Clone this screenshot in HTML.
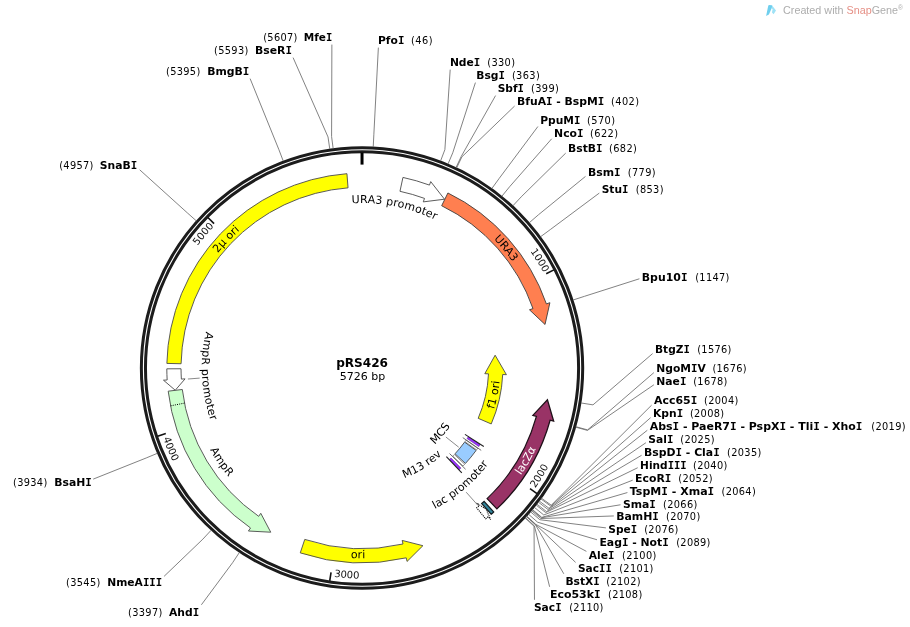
<!DOCTYPE html>
<html><head><meta charset="utf-8"><title>pRS426 map</title>
<style>html,body{margin:0;padding:0;background:#fff}svg{display:block}</style></head>
<body>
<svg width="910" height="627" viewBox="0 0 910 627" font-family="'DejaVu Sans', 'Liberation Sans', sans-serif" fill="#000">
<ellipse cx="362.03" cy="368.0" rx="220.67" ry="220.3" fill="none" stroke="#1c1c1c" stroke-width="3"/>
<ellipse cx="362.03" cy="368.0" rx="216.56" ry="216.2" fill="none" stroke="#1c1c1c" stroke-width="3"/>
<line x1="362.03" y1="152.5" x2="362.03" y2="164.6" stroke="#000" stroke-width="3"/>
<line x1="553.87" y1="269.87" x2="546.21" y2="273.79" stroke="#111" stroke-width="1.6"/>
<path id="tk1000" d="M530.29,251.19 A204.94,204.6 0 0 1 546.22,278.28" fill="none"/>
<text font-size="10" fill="#111"><textPath href="#tk1000">1000</textPath></text>
<line x1="536.99" y1="493.71" x2="530" y2="488.68" stroke="#111" stroke-width="1.6"/>
<path id="tk2000" d="M535.27,488.16 A210.95,210.6 0 0 0 551.25,461.1" fill="none"/>
<text font-size="10" fill="#111"><textPath href="#tk2000">2000</textPath></text>
<line x1="329.75" y1="580.77" x2="331.04" y2="572.27" stroke="#111" stroke-width="1.6"/>
<path id="tk3000" d="M333.91,576.72 A210.95,210.6 0 0 0 365.32,578.57" fill="none"/>
<text font-size="10" fill="#111"><textPath href="#tk3000">3000</textPath></text>
<line x1="157.63" y1="436.34" x2="165.8" y2="433.61" stroke="#111" stroke-width="1.6"/>
<path id="tk4000" d="M163.14,438.19 A210.95,210.6 0 0 0 175.81,466.94" fill="none"/>
<text font-size="10" fill="#111"><textPath href="#tk4000">4000</textPath></text>
<line x1="207.9" y1="217.55" x2="214.06" y2="223.56" stroke="#111" stroke-width="1.6"/>
<path id="tk5000" d="M197.65,245.81 A204.94,204.6 0 0 1 218.32,222.13" fill="none"/>
<text font-size="10" fill="#111"><textPath href="#tk5000">5000</textPath></text>
<path d="M166.86,363.41 A195.23,194.9 0 0 1 346.95,173.68 L348.05,187.84 A181,180.7 0 0 0 181.08,363.74 Z" fill="#ffff00" stroke="#4a4a4a" stroke-width="0.9" stroke-linejoin="miter"/>
<path d="M402.95,177.43 A195.23,194.9 0 0 1 429.45,185.09 L430.73,181.62 L444.49,199.21 L423.26,201.89 L424.54,198.42 A181,180.7 0 0 0 399.97,191.31 Z" fill="#ffffff" stroke="#4a4a4a" stroke-width="0.9" stroke-linejoin="miter"/>
<path d="M447.92,192.97 A195.23,194.9 0 0 1 546.4,303.91 L549.9,302.7 L545.02,324.48 L529.47,309.8 L532.97,308.58 A181,180.7 0 0 0 441.66,205.73 Z" fill="#ff7f50" stroke="#3c3c3c" stroke-width="0.9" stroke-linejoin="miter"/>
<path d="M496.91,508.91 A195.23,194.9 0 0 0 550.12,420.21 L553.69,421.2 L547.43,399.77 L532.85,415.41 L536.42,416.4 A181,180.7 0 0 1 487.08,498.64 Z" fill="#993366" stroke="#1e1018" stroke-width="1.25" stroke-linejoin="miter"/>
<path d="M493.67,511.92 A195.23,194.9 0 0 1 491.13,514.2 L481.73,503.55 A181,180.7 0 0 0 484.08,501.44 Z" fill="#31849b" stroke="#151c1f" stroke-width="1.25" stroke-linejoin="miter"/>
<path d="M485.68,518.82 A195.23,194.9 0 0 0 488.23,516.7 L490.63,519.52 L486.06,509.2 L476.64,503.04 L479.04,505.87 A181,180.7 0 0 1 476.67,507.83 Z" fill="#ffffff" stroke="#000" stroke-width="1.05" stroke-linejoin="miter" stroke-dasharray="1.1,1"/>
<path d="M300.25,552.88 A195.23,194.9 0 0 0 406.22,557.84 L407.06,561.44 L422.9,545.7 L402.16,540.41 L403,544.01 A181,180.7 0 0 1 304.75,539.41 Z" fill="#ffff00" stroke="#4a4a4a" stroke-width="0.9" stroke-linejoin="miter"/>
<path d="M168.19,391.18 A195.23,194.9 0 0 0 250.54,527.99 L248.42,531.03 L270.74,532.21 L260.78,513.3 L258.66,516.33 A181,180.7 0 0 1 182.31,389.49 Z" fill="#ccffcc" stroke="#4a4a4a" stroke-width="0.9" stroke-linejoin="miter"/>
<line x1="184.48" y1="403.1" x2="170.52" y2="405.86" stroke="#000" stroke-width="1" stroke-dasharray="1,1.2"/>
<path d="M166.81,368.82 A195.23,194.9 0 0 0 167.17,379.97 L163.47,380.19 L175.24,390.24 L185.07,378.87 L181.37,379.09 A181,180.7 0 0 1 181.03,368.76 Z" fill="#ffffff" stroke="#4a4a4a" stroke-width="0.9" stroke-linejoin="miter"/>
<path d="M491.23,423.95 A140.83,140.6 0 0 0 502.71,374.51 L506.42,374.68 L495.14,355.2 L484.8,373.68 L488.51,373.85 A126.61,126.4 0 0 1 478.18,418.3 Z" fill="#ffff00" stroke="#4a4a4a" stroke-width="0.9" stroke-linejoin="miter"/>
<path d="M476.11,450.44 A140.83,140.6 0 0 1 465.45,463.44 L455,453.8 A126.61,126.4 0 0 0 464.59,442.12 Z" fill="#99ccff" stroke="#4a4a4a" stroke-width="0.9" stroke-linejoin="miter"/>
<path d="M480.14,444.58 A140.83,140.6 0 0 1 478.86,446.52 L467.06,438.59 A126.61,126.4 0 0 0 468.21,436.84 Z" fill="#9933ff" stroke="#5a1f99" stroke-width="0.6" stroke-linejoin="miter"/>
<line x1="464.95" y1="434.34" x2="483.79" y2="446.49" stroke="#222" stroke-width="1.1"/>
<path d="M477.68,448.24 A140.83,140.6 0 0 1 476.54,449.85 L464.98,441.58 A126.61,126.4 0 0 0 466,440.14 Z" fill="#ffffff" stroke="#4a4a4a" stroke-width="0.6" stroke-linejoin="miter"/>
<line x1="462.75" y1="437.62" x2="481.19" y2="450.37" stroke="#4a4a4a" stroke-width="0.8"/>
<path d="M464.69,464.25 A140.83,140.6 0 0 1 463,466.02 L452.8,456.12 A126.61,126.4 0 0 0 454.33,454.53 Z" fill="#ffffff" stroke="#4a4a4a" stroke-width="0.6" stroke-linejoin="miter"/>
<line x1="449.56" y1="453.57" x2="465.59" y2="469.24" stroke="#4a4a4a" stroke-width="0.8"/>
<path d="M460.92,468.11 A140.83,140.6 0 0 1 459.24,469.73 L449.42,459.46 A126.61,126.4 0 0 0 450.93,458 Z" fill="#9933ff" stroke="#5a1f99" stroke-width="0.6" stroke-linejoin="miter"/>
<line x1="446.36" y1="456.71" x2="461.8" y2="472.96" stroke="#222" stroke-width="1.1"/>
<path id="p38" d="M343.97,203.99 A165.28,165 0 0 1 442.35,223.79" fill="none"/>
<text font-size="11" fill="#000" text-anchor="middle" letter-spacing="0.12"><textPath href="#p38" startOffset="50%">URA3 promoter</textPath></text>
<path id="p40" d="M489.13,234.75 A184.31,184 0 0 1 516.25,267.25" fill="none"/>
<text font-size="11" fill="#000" text-anchor="middle" letter-spacing="0"><textPath href="#p40" startOffset="50%">URA3</textPath></text>
<path id="p42" d="M210.77,262.87 A184.31,184 0 0 1 248.96,222.7" fill="none"/>
<text font-size="11" fill="#000" text-anchor="middle" letter-spacing="0"><textPath href="#p42" startOffset="50%">2μ ori</textPath></text>
<path id="p44" d="M207.32,326.25 A160.27,160 0 0 0 212.74,426.19" fill="none"/>
<text font-size="11" fill="#000" text-anchor="middle" letter-spacing="0.25"><textPath href="#p44" startOffset="50%">AmpR promoter</textPath></text>
<path id="p46" d="M207.91,445.55 A172.59,172.3 0 0 0 231.48,480.7" fill="none"/>
<text font-size="11" fill="#000" text-anchor="middle" letter-spacing="0"><textPath href="#p46" startOffset="50%">AmpR</textPath></text>
<path id="p48" d="M340.16,557.04 A190.62,190.3 0 0 0 375.96,557.79" fill="none"/>
<text font-size="11" fill="#000" text-anchor="middle" letter-spacing="0"><textPath href="#p48" startOffset="50%">ori</textPath></text>
<path id="p50" d="M515.57,482.79 A191.82,191.5 0 0 0 539.67,440.26" fill="none"/>
<text font-size="11" fill="#fff" text-anchor="middle" letter-spacing="0"><textPath href="#p50" startOffset="50%">lacZα</textPath></text>
<path id="p52" d="M489.23,422.01 A138.23,138 0 0 0 500.26,367.9" fill="none"/>
<text font-size="11" fill="#000" text-anchor="middle" letter-spacing="0"><textPath href="#p52" startOffset="50%">f1 ori</textPath></text>
<path id="p54" d="M423.54,514.12 A158.76,158.5 0 0 0 495.49,453.84" fill="none"/>
<text font-size="11" fill="#000" text-anchor="middle" letter-spacing="0"><textPath href="#p54" startOffset="50%">lac promoter</textPath></text>
<path id="p56" d="M395.8,481.08 A118.2,118 0 0 0 448.19,448.78" fill="none"/>
<text font-size="11" fill="#000" text-anchor="middle" letter-spacing="0"><textPath href="#p56" startOffset="50%">M13 rev</textPath></text>
<path id="p58" d="M430.35,448.49 A105.68,105.5 0 0 0 453.29,421.19" fill="none"/>
<text font-size="11" fill="#000" text-anchor="middle" letter-spacing="0"><textPath href="#p58" startOffset="50%">MCS</textPath></text>
<line x1="187.9" y1="379" x2="199.7" y2="378.1" stroke="#6c6c6c" stroke-width="0.8"/>
<line x1="466.2" y1="492.2" x2="477.7" y2="505.1" stroke="#6c6c6c" stroke-width="0.8"/>
<line x1="445.9" y1="437" x2="458.7" y2="447.2" stroke="#6c6c6c" stroke-width="0.8"/>
<text x="362.1" y="367.3" font-size="12" font-weight="bold" text-anchor="middle" textLength="51.89" lengthAdjust="spacingAndGlyphs">pRS426</text>
<text x="362.5" y="380.0" font-size="11" text-anchor="middle">5726 bp</text>
<polyline points="373.22,146.88 373.83,134.8 378.37,47.6" fill="none" stroke="#6c6c6c" stroke-width="0.85"/>
<text x="378" y="44" font-size="11" font-weight="bold" textLength="26.37" lengthAdjust="spacingAndGlyphs">Pfo<tspan font-family="'DejaVu Sans Mono', monospace">I</tspan></text>
<text x="411" y="44" font-size="9.8" textLength="21.5" lengthAdjust="spacing">(46)</text>
<polyline points="440.59,160.96 444.89,149.64 450.2,69.6" fill="none" stroke="#6c6c6c" stroke-width="0.85"/>
<text x="449.9" y="66" font-size="11" font-weight="bold" textLength="30.42" lengthAdjust="spacingAndGlyphs">Nde<tspan font-family="'DejaVu Sans Mono', monospace">I</tspan></text>
<text x="487.2" y="66" font-size="9.8" textLength="27.86" lengthAdjust="spacing">(330)</text>
<polyline points="448.05,163.93 452.75,152.78 475.41,82.6" fill="none" stroke="#6c6c6c" stroke-width="0.85"/>
<text x="476.3" y="79" font-size="11" font-weight="bold" textLength="28.7" lengthAdjust="spacingAndGlyphs">Bsg<tspan font-family="'DejaVu Sans Mono', monospace">I</tspan></text>
<text x="511.9" y="79" font-size="9.8" textLength="27.86" lengthAdjust="spacing">(363)</text>
<polyline points="456.05,167.48 461.19,156.52 495.56,95.6" fill="none" stroke="#6c6c6c" stroke-width="0.85"/>
<text x="497.7" y="92" font-size="11" font-weight="bold" textLength="26.25" lengthAdjust="spacingAndGlyphs">Sbf<tspan font-family="'DejaVu Sans Mono', monospace">I</tspan></text>
<text x="531" y="92" font-size="9.8" textLength="27.86" lengthAdjust="spacing">(399)</text>
<polyline points="456.71,167.79 461.89,156.85 514.6,106.04" fill="none" stroke="#6c6c6c" stroke-width="0.85"/>
<text x="517" y="105" font-size="11" font-weight="bold" textLength="87.33" lengthAdjust="spacingAndGlyphs">BfuA<tspan font-family="'DejaVu Sans Mono', monospace">I</tspan> - BspM<tspan font-family="'DejaVu Sans Mono', monospace">I</tspan></text>
<text x="611.1" y="105" font-size="9.8" textLength="27.86" lengthAdjust="spacing">(402)</text>
<polyline points="491.87,188.51 498.97,178.7 537.9,126.53" fill="none" stroke="#6c6c6c" stroke-width="0.85"/>
<text x="540.3" y="124" font-size="11" font-weight="bold" textLength="40.12" lengthAdjust="spacingAndGlyphs">PpuM<tspan font-family="'DejaVu Sans Mono', monospace">I</tspan></text>
<text x="587.1" y="124" font-size="9.8" textLength="27.86" lengthAdjust="spacing">(570)</text>
<polyline points="501.91,196.2 509.56,186.81 551.7,138.77" fill="none" stroke="#6c6c6c" stroke-width="0.85"/>
<text x="554.1" y="137" font-size="11" font-weight="bold" textLength="29.45" lengthAdjust="spacingAndGlyphs">Nco<tspan font-family="'DejaVu Sans Mono', monospace">I</tspan></text>
<text x="590.1" y="137" font-size="9.8" textLength="27.86" lengthAdjust="spacing">(622)</text>
<polyline points="512.93,205.76 521.18,196.89 565.7,153.13" fill="none" stroke="#6c6c6c" stroke-width="0.85"/>
<text x="568.1" y="152" font-size="11" font-weight="bold" textLength="34.41" lengthAdjust="spacingAndGlyphs">BstB<tspan font-family="'DejaVu Sans Mono', monospace">I</tspan></text>
<text x="609" y="152" font-size="9.8" textLength="27.86" lengthAdjust="spacing">(682)</text>
<polyline points="529.34,222.68 538.49,214.74 585.5,176.4" fill="none" stroke="#6c6c6c" stroke-width="0.85"/>
<text x="587.9" y="176" font-size="11" font-weight="bold" textLength="32.65" lengthAdjust="spacingAndGlyphs">Bsm<tspan font-family="'DejaVu Sans Mono', monospace">I</tspan></text>
<text x="627.8" y="176" font-size="9.8" textLength="27.86" lengthAdjust="spacing">(779)</text>
<polyline points="540.6,236.71 550.36,229.53 599.3,193.07" fill="none" stroke="#6c6c6c" stroke-width="0.85"/>
<text x="601.7" y="193" font-size="11" font-weight="bold" textLength="26.76" lengthAdjust="spacingAndGlyphs">Stu<tspan font-family="'DejaVu Sans Mono', monospace">I</tspan></text>
<text x="635.7" y="193" font-size="9.8" textLength="27.86" lengthAdjust="spacing">(853)</text>
<polyline points="573.08,300 584.61,296.28 639.4,278.77" fill="none" stroke="#6c6c6c" stroke-width="0.85"/>
<text x="641.8" y="281" font-size="11" font-weight="bold" textLength="45.65" lengthAdjust="spacingAndGlyphs">Bpu10<tspan font-family="'DejaVu Sans Mono', monospace">I</tspan></text>
<text x="695.2" y="281" font-size="9.8" textLength="34.22" lengthAdjust="spacing">(1147)</text>
<polyline points="581.02,402.96 592.99,404.87 652.6,353.59" fill="none" stroke="#6c6c6c" stroke-width="0.85"/>
<text x="655" y="353" font-size="11" font-weight="bold" textLength="34.8" lengthAdjust="spacingAndGlyphs">BtgZ<tspan font-family="'DejaVu Sans Mono', monospace">I</tspan></text>
<text x="697.2" y="353" font-size="9.8" textLength="34.22" lengthAdjust="spacing">(1576)</text>
<polyline points="575.87,426.69 587.55,429.9 653.9,372.6" fill="none" stroke="#6c6c6c" stroke-width="0.85"/>
<text x="656.3" y="372" font-size="11" font-weight="bold" textLength="49.5" lengthAdjust="spacingAndGlyphs">NgoM<tspan font-family="'DejaVu Sans Mono', monospace">I</tspan>V</text>
<text x="712.4" y="372" font-size="9.8" textLength="34.22" lengthAdjust="spacing">(1676)</text>
<polyline points="575.74,427.16 587.42,430.39 653.9,384.77" fill="none" stroke="#6c6c6c" stroke-width="0.85"/>
<text x="656.3" y="385" font-size="11" font-weight="bold" textLength="30.08" lengthAdjust="spacingAndGlyphs">Nae<tspan font-family="'DejaVu Sans Mono', monospace">I</tspan></text>
<text x="693.2" y="385" font-size="9.8" textLength="34.22" lengthAdjust="spacing">(1678)</text>
<polyline points="541.46,498.12 551.27,505.23 651.6,405.16" fill="none" stroke="#6c6c6c" stroke-width="0.85"/>
<text x="654" y="404" font-size="11" font-weight="bold" textLength="43.22" lengthAdjust="spacingAndGlyphs">Acc65<tspan font-family="'DejaVu Sans Mono', monospace">I</tspan></text>
<text x="704.1" y="404" font-size="9.8" textLength="34.22" lengthAdjust="spacing">(2004)</text>
<polyline points="540.89,498.9 550.66,506.06 650.6,417.67" fill="none" stroke="#6c6c6c" stroke-width="0.85"/>
<text x="653" y="417" font-size="11" font-weight="bold" textLength="30.11" lengthAdjust="spacingAndGlyphs">Kpn<tspan font-family="'DejaVu Sans Mono', monospace">I</tspan></text>
<text x="689.9" y="417" font-size="9.8" textLength="34.22" lengthAdjust="spacing">(2008)</text>
<polyline points="539.29,501.05 548.98,508.32 647.3,430.26" fill="none" stroke="#6c6c6c" stroke-width="0.85"/>
<text x="649.7" y="430" font-size="11" font-weight="bold" textLength="212.73" lengthAdjust="spacingAndGlyphs">Abs<tspan font-family="'DejaVu Sans Mono', monospace">I</tspan> - PaeR7<tspan font-family="'DejaVu Sans Mono', monospace">I</tspan> - PspX<tspan font-family="'DejaVu Sans Mono', monospace">I</tspan> - Tli<tspan font-family="'DejaVu Sans Mono', monospace">I</tspan> - Xho<tspan font-family="'DejaVu Sans Mono', monospace">I</tspan></text>
<text x="871.3" y="430" font-size="9.8" textLength="34.22" lengthAdjust="spacing">(2019)</text>
<polyline points="538.41,502.21 548.05,509.54 645.9,442.73" fill="none" stroke="#6c6c6c" stroke-width="0.85"/>
<text x="648.3" y="443" font-size="11" font-weight="bold" textLength="25.03" lengthAdjust="spacingAndGlyphs">Sal<tspan font-family="'DejaVu Sans Mono', monospace">I</tspan></text>
<text x="680.3" y="443" font-size="9.8" textLength="34.22" lengthAdjust="spacing">(2025)</text>
<polyline points="536.92,504.13 546.48,511.57 641.6,455.27" fill="none" stroke="#6c6c6c" stroke-width="0.85"/>
<text x="644" y="456" font-size="11" font-weight="bold" textLength="75.71" lengthAdjust="spacingAndGlyphs">BspD<tspan font-family="'DejaVu Sans Mono', monospace">I</tspan> - Cla<tspan font-family="'DejaVu Sans Mono', monospace">I</tspan></text>
<text x="727.1" y="456" font-size="9.8" textLength="34.22" lengthAdjust="spacing">(2035)</text>
<polyline points="536.17,505.09 545.69,512.58 637.7,467.72" fill="none" stroke="#6c6c6c" stroke-width="0.85"/>
<text x="640.1" y="469" font-size="11" font-weight="bold" textLength="46.61" lengthAdjust="spacingAndGlyphs">Hind<tspan font-family="'DejaVu Sans Mono', monospace">I</tspan><tspan font-family="'DejaVu Sans Mono', monospace">I</tspan><tspan font-family="'DejaVu Sans Mono', monospace">I</tspan></text>
<text x="693.1" y="469" font-size="9.8" textLength="34.22" lengthAdjust="spacing">(2040)</text>
<polyline points="534.35,507.37 543.77,514.98 632.7,480.17" fill="none" stroke="#6c6c6c" stroke-width="0.85"/>
<text x="635.1" y="482" font-size="11" font-weight="bold" textLength="36.25" lengthAdjust="spacingAndGlyphs">EcoR<tspan font-family="'DejaVu Sans Mono', monospace">I</tspan></text>
<text x="678.3" y="482" font-size="9.8" textLength="34.22" lengthAdjust="spacing">(2052)</text>
<polyline points="532.5,509.62 541.81,517.36 627.4,492.56" fill="none" stroke="#6c6c6c" stroke-width="0.85"/>
<text x="629.8" y="495" font-size="11" font-weight="bold" textLength="84.45" lengthAdjust="spacingAndGlyphs">TspM<tspan font-family="'DejaVu Sans Mono', monospace">I</tspan> - Xma<tspan font-family="'DejaVu Sans Mono', monospace">I</tspan></text>
<text x="721.5" y="495" font-size="9.8" textLength="34.22" lengthAdjust="spacing">(2064)</text>
<polyline points="532.18,509.99 541.48,517.75 620.5,504.78" fill="none" stroke="#6c6c6c" stroke-width="0.85"/>
<text x="622.9" y="508" font-size="11" font-weight="bold" textLength="32.9" lengthAdjust="spacingAndGlyphs">Sma<tspan font-family="'DejaVu Sans Mono', monospace">I</tspan></text>
<text x="663.1" y="508" font-size="9.8" textLength="34.22" lengthAdjust="spacing">(2066)</text>
<polyline points="531.56,510.74 540.82,518.54 613.8,515.94" fill="none" stroke="#6c6c6c" stroke-width="0.85"/>
<text x="616.2" y="520" font-size="11" font-weight="bold" textLength="42.68" lengthAdjust="spacingAndGlyphs">BamH<tspan font-family="'DejaVu Sans Mono', monospace">I</tspan></text>
<text x="666" y="520" font-size="9.8" textLength="34.22" lengthAdjust="spacing">(2070)</text>
<polyline points="530.61,511.85 539.83,519.71 605.9,527.88" fill="none" stroke="#6c6c6c" stroke-width="0.85"/>
<text x="608.3" y="533" font-size="11" font-weight="bold" textLength="28.91" lengthAdjust="spacingAndGlyphs">Spe<tspan font-family="'DejaVu Sans Mono', monospace">I</tspan></text>
<text x="644.2" y="533" font-size="9.8" textLength="34.22" lengthAdjust="spacing">(2076)</text>
<polyline points="528.54,514.23 537.64,522.23 597,539.77" fill="none" stroke="#6c6c6c" stroke-width="0.85"/>
<text x="599.4" y="546" font-size="11" font-weight="bold" textLength="69.36" lengthAdjust="spacingAndGlyphs">Eag<tspan font-family="'DejaVu Sans Mono', monospace">I</tspan> - Not<tspan font-family="'DejaVu Sans Mono', monospace">I</tspan></text>
<text x="676.2" y="546" font-size="9.8" textLength="34.22" lengthAdjust="spacing">(2089)</text>
<polyline points="526.76,516.23 535.76,524.33 586.4,551.37" fill="none" stroke="#6c6c6c" stroke-width="0.85"/>
<text x="588.8" y="559" font-size="11" font-weight="bold" textLength="25.71" lengthAdjust="spacingAndGlyphs">Ale<tspan font-family="'DejaVu Sans Mono', monospace">I</tspan></text>
<text x="622.1" y="559" font-size="9.8" textLength="34.22" lengthAdjust="spacing">(2100)</text>
<polyline points="526.6,516.41 535.59,524.52 575.6,562.38" fill="none" stroke="#6c6c6c" stroke-width="0.85"/>
<text x="578" y="572" font-size="11" font-weight="bold" textLength="33.74" lengthAdjust="spacingAndGlyphs">Sac<tspan font-family="'DejaVu Sans Mono', monospace">I</tspan><tspan font-family="'DejaVu Sans Mono', monospace">I</tspan></text>
<text x="619.2" y="572" font-size="9.8" textLength="34.22" lengthAdjust="spacing">(2101)</text>
<polyline points="526.43,516.59 535.42,524.71 563.79,573.8" fill="none" stroke="#6c6c6c" stroke-width="0.85"/>
<text x="565.4" y="585" font-size="11" font-weight="bold" textLength="34.43" lengthAdjust="spacingAndGlyphs">BstX<tspan font-family="'DejaVu Sans Mono', monospace">I</tspan></text>
<text x="606.3" y="585" font-size="9.8" textLength="34.22" lengthAdjust="spacing">(2102)</text>
<polyline points="525.45,517.67 534.38,525.85 549.63,586.8" fill="none" stroke="#6c6c6c" stroke-width="0.85"/>
<text x="549.9" y="598" font-size="11" font-weight="bold" textLength="50.67" lengthAdjust="spacingAndGlyphs">Eco53k<tspan font-family="'DejaVu Sans Mono', monospace">I</tspan></text>
<text x="608" y="598" font-size="9.8" textLength="34.22" lengthAdjust="spacing">(2108)</text>
<polyline points="525.12,518.03 534.04,526.22 534.48,599.8" fill="none" stroke="#6c6c6c" stroke-width="0.85"/>
<text x="533.9" y="611" font-size="11" font-weight="bold" textLength="27.73" lengthAdjust="spacingAndGlyphs">Sac<tspan font-family="'DejaVu Sans Mono', monospace">I</tspan></text>
<text x="569.2" y="611" font-size="9.8" textLength="34.22" lengthAdjust="spacing">(2110)</text>
<polyline points="333.15,148.48 331.58,136.49 331.89,44.6" fill="none" stroke="#6c6c6c" stroke-width="0.85"/>
<text x="303.8" y="41" font-size="11" font-weight="bold" textLength="28.48" lengthAdjust="spacingAndGlyphs">Mfe<tspan font-family="'DejaVu Sans Mono', monospace">I</tspan></text>
<text x="263.2" y="41" font-size="9.8" textLength="34.22" lengthAdjust="spacing">(5607)</text>
<polyline points="329.78,148.95 328.02,136.98 293.08,57.6" fill="none" stroke="#6c6c6c" stroke-width="0.85"/>
<text x="255" y="54" font-size="11" font-weight="bold" textLength="36.92" lengthAdjust="spacingAndGlyphs">BseR<tspan font-family="'DejaVu Sans Mono', monospace">I</tspan></text>
<text x="214.1" y="54" font-size="9.8" textLength="34.22" lengthAdjust="spacing">(5593)</text>
<polyline points="283.24,161.04 278.93,149.73 250.1,78.6" fill="none" stroke="#6c6c6c" stroke-width="0.85"/>
<text x="207.2" y="75" font-size="11" font-weight="bold" textLength="42.2" lengthAdjust="spacingAndGlyphs">BmgB<tspan font-family="'DejaVu Sans Mono', monospace">I</tspan></text>
<text x="166" y="75" font-size="9.8" textLength="34.22" lengthAdjust="spacing">(5395)</text>
<polyline points="196.33,220.86 187.27,212.81 139.7,169.79" fill="none" stroke="#6c6c6c" stroke-width="0.85"/>
<text x="99.7" y="169" font-size="11" font-weight="bold" textLength="37.48" lengthAdjust="spacingAndGlyphs">SnaB<tspan font-family="'DejaVu Sans Mono', monospace">I</tspan></text>
<text x="59.2" y="169" font-size="9.8" textLength="34.22" lengthAdjust="spacing">(4957)</text>
<polyline points="157.39,453.31 146.2,457.98 93.2,479.14" fill="none" stroke="#6c6c6c" stroke-width="0.85"/>
<text x="54.2" y="486" font-size="11" font-weight="bold" textLength="37.57" lengthAdjust="spacingAndGlyphs">BsaH<tspan font-family="'DejaVu Sans Mono', monospace">I</tspan></text>
<text x="13" y="486" font-size="9.8" textLength="34.22" lengthAdjust="spacing">(3934)</text>
<polyline points="211.13,530.24 202.88,539.11 164.1,576.32" fill="none" stroke="#6c6c6c" stroke-width="0.85"/>
<text x="107.3" y="586" font-size="11" font-weight="bold" textLength="54.91" lengthAdjust="spacingAndGlyphs">NmeA<tspan font-family="'DejaVu Sans Mono', monospace">I</tspan><tspan font-family="'DejaVu Sans Mono', monospace">I</tspan><tspan font-family="'DejaVu Sans Mono', monospace">I</tspan></text>
<text x="66.1" y="586" font-size="9.8" textLength="34.22" lengthAdjust="spacing">(3545)</text>
<polyline points="239.39,552.47 232.69,562.55 201.38,604.8" fill="none" stroke="#6c6c6c" stroke-width="0.85"/>
<text x="169" y="616" font-size="11" font-weight="bold" textLength="30.16" lengthAdjust="spacingAndGlyphs">Ahd<tspan font-family="'DejaVu Sans Mono', monospace">I</tspan></text>
<text x="128.1" y="616" font-size="9.8" textLength="34.22" lengthAdjust="spacing">(3397)</text>
<path d="M766.1,15.9 L768.3,5.6 Q768.6,5 769.4,5 L771.8,5.2 Q772.8,5.4 772.4,6.4 L768.9,14.4 Z" fill="#6fcfee"/>
<path d="M772.5,5.9 L776,10.4 L773.6,14.2 L772,12.6 L772.6,9 L771.4,8.6 Z" fill="#9fe2f6"/>
<text x="783" y="13.8" font-family="'Liberation Sans', sans-serif" font-size="10.6" fill="#adadad" textLength="120" lengthAdjust="spacingAndGlyphs">Created with <tspan fill="#e58f85">Snap</tspan>Gene<tspan font-size="6.5" dy="-3.5">®</tspan></text>
</svg>
</body></html>
